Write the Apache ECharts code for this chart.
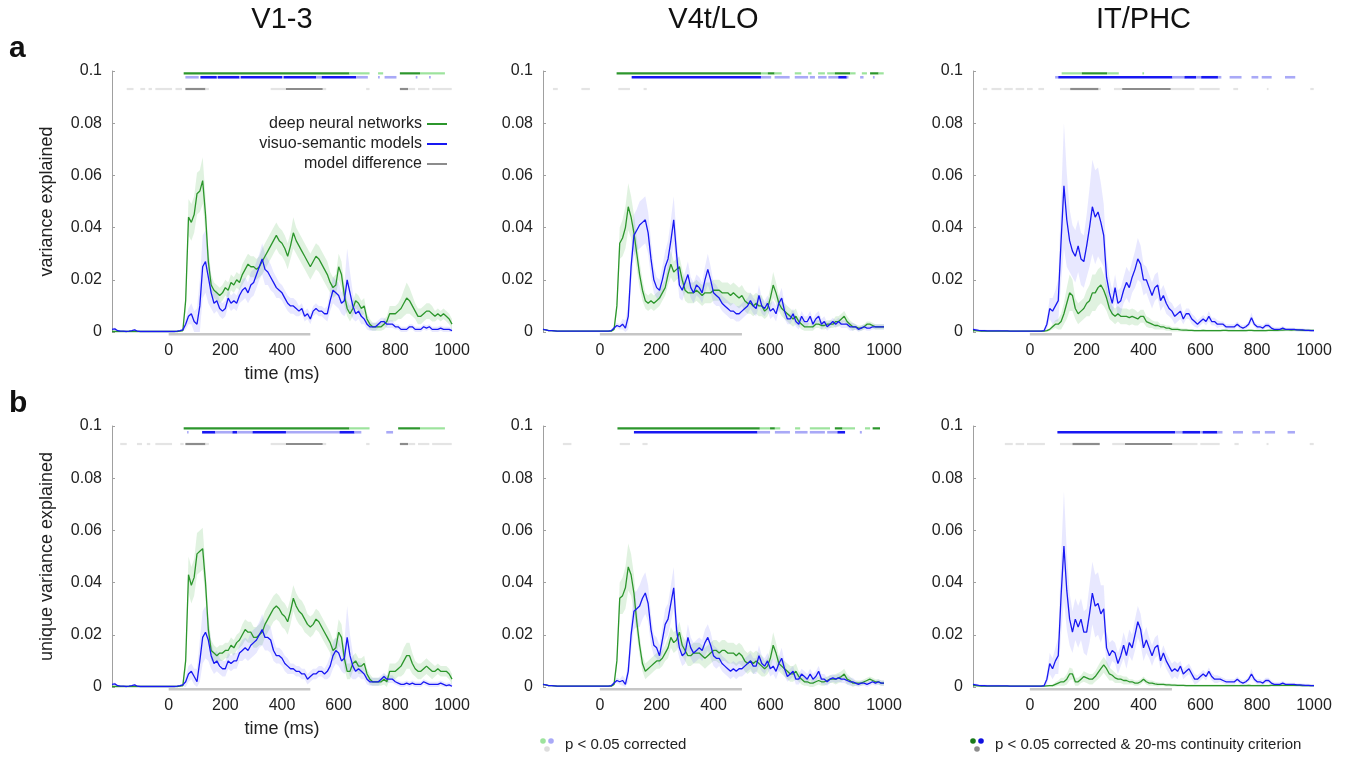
<!DOCTYPE html>
<html>
<head>
<meta charset="utf-8">
<script src="https://cdn.jsdelivr.net/npm/echarts@6/dist/echarts.min.js"></script>
<style>
html, body { margin: 0; padding: 0; background: #fff; }
#chart { width: 1345px; height: 757px; }
</style>
</head>
<body>
<div id="chart"></div>
<script>
// time grid (ms), 10 ms steps
var times = [];
for (var t = -200; t <= 1000; t += 10) times.push(t);

// all curve values in units of 0.001 (variance explained)
// V1-3, variance explained
var dnnA1 = [
 0.2,0.2,0.2,0.2,0.2,0.2,0.2,0.2,0.2,0.2,
 0.2,0.2,0.2,0.2,0.2,0.2,0.2,0.2,0.2,0.2,
 0.2,0.2,0.2,0.2,0.3,0.5,12,44,42,45,
 53,54,58,45,27,18,16,15,14,15,
 17,16,19,18,20,19,22,24,26,25,
 25,24,25,27,29,31,33,35,37,35,
 34,32,29,33,38,35,33,31,29,27,
 25,27,29,28,26,24,22,19,17,18,
 25,22,14,9,7,9,12,11,9,10,
 5,3,2,2,2,2,3,4,7,7,
 7,8,9,11,13,12,10,8,6,6,
 7,8,8,7,6,7,6,7,6,5,
 3];
var dnnA1e = [
 0.3,0.3,0.3,0.3,0.3,0.3,0.3,0.3,0.3,0.3,
 0.3,0.3,0.3,0.3,0.3,0.3,0.3,0.3,0.3,0.3,
 0.3,0.3,0.3,0.3,0.3,0.5,4,7,7,7,
 8,8,9,7,5,4,3,3,3,3,
 3,3,3,3,3,3,4,4,4,4,
 4,4,4,5,5,5,5,5,5,5,
 5,5,5,5,6,5,5,5,5,5,
 5,5,5,5,5,5,5,4,4,4,
 5,5,4,3,3,3,3,3,3,3,
 2,2,1.5,1.5,1.5,1.5,2,2,3,3,
 3,3,4,5,6,5,4,3,3,3,
 3,3,3,3,2,2,2,2,2,2,
 2];
var vsA1 = [
 1,1.2,0.5,0.3,0.3,0.2,0.3,0.5,0.8,0.3,
 0.2,0.2,0.2,0.2,0.2,0.2,0.2,0.2,0.2,0.2,
 0.2,0.2,0.2,0.3,0.5,0.8,3,6,7,4,
 3,10,25,27,21,15,11,12,9,8,
 9,13,11,12,11,14,16,17,15,18,
 19,22,25,28,24,23,21,19,17,16,
 15,13,11,10,10,9,8,9,6,7,
 5,8,9,8,8,7,7,12,16,15,
 14,11,12,20,15,10,7,8,6,5,
 3,2,2,2,3,4,4,3,3,3,
 2,2,1,1,1,2,2,1,1,1,
 2,1.5,2,1,1,1,1.5,1,1,1,
 0.5];
var vsA1e = [
 0.5,0.5,0.4,0.3,0.3,0.3,0.3,0.3,0.4,0.3,
 0.3,0.3,0.3,0.3,0.3,0.3,0.3,0.3,0.3,0.3,
 0.3,0.3,0.3,0.3,0.3,0.5,2,3,4,4,
 6,10,12,12,10,6,4,4,3,3,
 3,3,3,3,3,3,4,4,4,5,
 5,5,5,6,6,5,5,4,4,3,
 3,3,3,3,3,3,2,2,2,2,
 2,2,2,2,2,2,3,4,5,5,
 5,4,6,12,8,5,3,3,3,2,
 2,1.5,1.5,1.5,1.5,1.5,1.5,1.5,1.5,1.5,
 1,1,1,1,1,1,1,1,1,1,
 1,1,1,1,1,1,1,1,1,1,
 1];

// V4t/LO, variance explained
var dnnA2 = [
 1,0.8,0.5,0.5,0.4,0.3,0.3,0.3,0.3,0.3,
 0.3,0.3,0.3,0.3,0.3,0.3,0.3,0.3,0.3,0.3,
 0.3,0.3,0.3,0.3,0.3,1,10,34,36,40,
 48,44,38,30,22,16,12,11,12,11,
 12,13,15,17,22,26,23,24,25,20,
 16,15,15,15,16,15,14,15,15,15,
 16,16,16,15,15,15,14,15,14,13,
 14,12,11,11,10,11,10,10,8,9,
 13,18,15,11,9,8,7,6,5,6,
 4,3,2,2,2,2,3,3,2.5,2.5,
 3,3,3,4,4,5,6,4,3,2,
 2,1.5,1.5,2,3,3,2.5,2,2,2,
 2];
var dnnA2e = [
 0.3,0.3,0.3,0.3,0.3,0.3,0.3,0.3,0.3,0.3,
 0.3,0.3,0.3,0.3,0.3,0.3,0.3,0.3,0.3,0.3,
 0.3,0.3,0.3,0.3,0.3,0.5,3,6,7,8,
 9,8,7,6,5,4,3,3,3,3,
 3,3,3,3,4,5,4,4,4,4,
 4,4,4,4,4,4,4,4,4,4,
 4,4,4,4,4,4,4,4,4,4,
 4,4,4,4,4,4,4,4,3,3,
 4,5,4,3,3,3,3,3,3,3,
 2,2,1.5,1.5,1.5,1.5,1.5,1.5,1.5,1.5,
 1.5,1.5,1.5,2,2,2,2,2,1.5,1.5,
 1,1,1,1,1,1,1,1,1,1,
 1];
var vsA2 = [
 1,0.8,0.5,0.5,0.4,0.3,0.3,0.3,0.3,0.3,
 0.3,0.3,0.3,0.3,0.3,0.3,0.3,0.3,0.3,0.3,
 0.3,0.3,0.3,0.3,0.5,1.5,2.5,2,3,1.5,
 6,25,37,39,41,42,43,38,28,20,
 17,16,20,25,28,35,43,30,18,16,
 19,22,17,15,18,17,15,20,24,20,
 15,14,13,11,10,9,8,8,7,7,
 8,9,10,12,10,9,14,10,9,11,
 8,9,7,11,13,8,5,5,7,4,
 3,6,4,4,6,3,5,6,3,4,
 2,3,4,3,4,3,3,3,2,2,
 2,1,1.5,2,1.5,1.5,2,2,2,2,
 2];
var vsA2e = [
 0.3,0.3,0.3,0.3,0.3,0.3,0.3,0.3,0.3,0.3,
 0.3,0.3,0.3,0.3,0.3,0.3,0.3,0.3,0.3,0.3,
 0.3,0.3,0.3,0.3,0.3,0.5,1,1,2,3,
 5,7,8,8,9,9,9,8,7,5,
 4,4,5,6,7,8,9,7,5,4,
 4,5,4,4,4,4,4,5,6,5,
 4,4,3,3,3,3,3,3,3,3,
 3,3,3,3,3,3,4,3,3,3,
 3,3,3,3,4,3,2,2,2,2,
 2,2,2,2,2,2,2,2,2,2,
 1.5,1.5,1.5,1.5,1.5,1.5,1.5,1.5,1.5,1.5,
 1,1,1,1,1,1,1,1,1,1,
 1];

// IT/PHC, variance explained
var dnnA3 = [
 0.5,0.5,0.4,0.3,0.3,0.3,0.3,0.3,0.3,0.3,
 0.3,0.3,0.3,0.3,0.3,0.3,0.3,0.3,0.3,0.3,
 0.3,0.3,0.3,0.3,0.3,0.3,0.5,1,2,3,
 3,4,7,11,15,14,9,7,8,9,
 11,12,15,15,17,18,16,13,9,7,
 6,7,6,6,6,5.5,6,5.5,5,6,
 6,4,3.5,3,2.5,2.5,2,2,1.5,1.5,
 1,1,1,0.8,0.7,0.7,0.6,0.6,0.5,0.5,
 0.5,0.6,0.5,0.5,0.5,0.5,0.5,0.5,0.6,0.6,
 0.5,0.5,0.5,0.5,0.5,0.5,0.5,0.6,0.6,0.5,
 0.5,0.5,0.5,0.5,0.6,0.6,0.6,0.6,0.7,0.7,
 0.8,0.8,0.7,0.8,0.8,0.7,0.6,0.6,0.6,0.6,
 0.6];
var dnnA3e = [
 0.3,0.3,0.3,0.3,0.3,0.3,0.3,0.3,0.3,0.3,
 0.3,0.3,0.3,0.3,0.3,0.3,0.3,0.3,0.3,0.3,
 0.3,0.3,0.3,0.3,0.3,0.3,0.4,0.5,1,1.5,
 2,3,4,6,7,6,4,4,4,4,
 5,6,7,7,7,7,6,5,4,3,
 3,3,3,3,3,3,3,3,2.5,2.5,
 2.5,2,2,1.5,1.5,1.5,1,1,1,1,
 0.8,0.8,0.8,0.6,0.6,0.6,0.5,0.5,0.5,0.5,
 0.5,0.5,0.5,0.5,0.5,0.5,0.5,0.5,0.5,0.5,
 0.5,0.5,0.5,0.5,0.5,0.5,0.5,0.5,0.5,0.5,
 0.5,0.5,0.5,0.5,0.5,0.5,0.5,0.5,0.5,0.5,
 0.5,0.5,0.5,0.5,0.5,0.5,0.5,0.5,0.5,0.5,
 0.5];
var vsA3 = [
 1,0.8,0.6,0.5,0.5,0.4,0.4,0.4,0.4,0.4,
 0.4,0.4,0.4,0.3,0.3,0.3,0.3,0.3,0.3,0.3,
 0.3,0.3,0.3,0.3,0.3,0.5,3,9,8,10,
 12,35,56,43,35,31,29,33,28,27,
 33,40,48,44,46,42,37,21,15,11,
 17,11,12,16,19,17,21,24,28,26,
 20,20,17,14,17,18,12,14,11,9,
 8,6,7,8,5,7,7,5,4,3,
 4,5,4,6,4,4,3,3,3,2,
 2,2,2,3,2,1.5,2,3,5.5,3,
 2,2,1.5,2.5,2.5,1.5,1,1,1,1.5,
 1,1,1,1,0.8,0.8,0.8,0.6,0.6,0.5,
 0.5];
var vsA3e = [
 0.5,0.5,0.5,0.5,0.5,0.5,0.5,0.5,0.5,0.5,
 0.4,0.4,0.4,0.4,0.4,0.4,0.4,0.4,0.4,0.4,
 0.3,0.3,0.3,0.3,0.3,0.5,2,4,5,6,
 8,16,24,18,12,10,10,10,10,10,
 12,15,18,18,17,15,12,8,6,5,
 5,5,5,5,6,6,6,7,8,7,
 6,5,5,5,5,5,4,4,4,3,
 3,3,3,3,2,2,2,2,2,1.5,
 1.5,1.5,1.5,2,1.5,1.5,1.5,1,1,1,
 1,1,1,1,1,1,1,1,2,1,
 1,1,1,1,1,1,0.8,0.8,0.8,0.8,
 0.6,0.6,0.6,0.6,0.6,0.6,0.6,0.6,0.6,0.6,
 0.6];

// V1-3, unique variance explained
var dnnB1 = [
 0.2,0.2,0.2,0.2,0.2,0.2,0.2,0.2,0.2,0.2,
 0.2,0.2,0.2,0.2,0.2,0.2,0.2,0.2,0.2,0.2,
 0.2,0.2,0.2,0.2,0.3,0.5,10,43,39,42,
 51,52,53,40,22,14,13,12,13,13,
 14,14,16,15,17,18,20,22,21,21,
 19,19,20,21,24,26,28,30,31,30,
 28,27,25,29,34,31,29,28,26,24,
 23,24,26,25,23,21,19,17,14,15,
 21,19,11,6,6,9,10,8,8,9,
 5,3,2,2,2,2,3,2,6,6,
 6,7,8,10,12,12,9,7,6,6,
 7,8,7,6,6,7,6,6,6,5,
 3];
var dnnB1e = [
 0.3,0.3,0.3,0.3,0.3,0.3,0.3,0.3,0.3,0.3,
 0.3,0.3,0.3,0.3,0.3,0.3,0.3,0.3,0.3,0.3,
 0.3,0.3,0.3,0.3,0.3,0.5,4,7,7,7,
 8,8,8,6,5,4,3,3,3,3,
 3,3,3,3,3,3,4,4,4,4,
 4,4,4,5,5,5,5,5,5,5,
 5,5,5,5,5,5,5,5,5,4,
 4,4,4,4,4,4,4,4,4,4,
 5,5,4,3,3,3,3,3,3,3,
 2,2,1.5,1.5,1.5,1.5,2,2,3,3,
 3,3,4,5,5,5,4,3,3,3,
 3,3,3,3,2,2,2,2,2,2,
 2];
var vsB1 = [
 1,1.2,0.5,0.3,0.3,0.2,0.3,0.5,0.8,0.3,
 0.2,0.2,0.2,0.2,0.2,0.2,0.2,0.2,0.2,0.2,
 0.2,0.2,0.2,0.3,0.5,0.8,2,5,6,4,
 2,10,19,21,18,12,9,10,8,7,
 7,10,9,10,10,13,14,15,14,16,
 17,18,20,22,19,19,18,14,12,12,
 11,9,8,7,7,6,6,5,5,3,
 4,5,5,6,6,5,6,8,12,14,
 13,10,11,19,12,8,6,7,6,5,
 3,2,2,2,2,3,4,3,3,3,
 2,1.5,1,1,1.5,1,1.5,1,1,1,
 2,1.5,1,1,1,1,1.5,1,0.5,0.8,
 0.3];
var vsB1e = [
 0.5,0.5,0.4,0.3,0.3,0.3,0.3,0.3,0.4,0.3,
 0.3,0.3,0.3,0.3,0.3,0.3,0.3,0.3,0.3,0.3,
 0.3,0.3,0.3,0.3,0.3,0.5,2,3,3,3,
 5,8,10,10,8,5,4,4,3,3,
 3,3,3,3,3,3,4,4,4,5,
 5,5,5,6,5,5,5,4,3,3,
 3,3,3,2,2,2,2,2,2,2,
 2,2,2,2,2,2,3,4,5,5,
 5,4,6,12,8,5,3,3,3,2,
 2,1.5,1.5,1.5,1.5,1.5,1.5,1.5,1.5,1.5,
 1,1,1,1,1,1,1,1,1,1,
 1,1,1,1,1,1,1,1,1,1,
 1];

// V4t/LO, unique variance explained
var dnnB2 = [
 1,0.8,0.5,0.5,0.4,0.3,0.3,0.3,0.3,0.3,
 0.3,0.3,0.3,0.3,0.3,0.3,0.3,0.3,0.3,0.3,
 0.3,0.3,0.3,0.3,0.3,1,10,34,35,38,
 46,43,36,25,16,9,6,7,8,9,
 10,10,11,13,15,19,17,18,21,16,
 14,12,12,13,13,13,12,11,12,13,
 14,14,13,14,14,13,13,13,12,13,
 12,10,9,10,9,10,9,8,7,8,
 11,16,13,9,8,7,6,5,5,6,
 4,3,2,2,1.5,1.5,2,2.5,2,2,
 2.5,3,3,3,3.5,4,5,3,2.5,1.5,
 1.5,1.5,1.5,2,2.5,3,2.5,2,2,1.5,
 1.5];
var dnnB2e = [
 0.3,0.3,0.3,0.3,0.3,0.3,0.3,0.3,0.3,0.3,
 0.3,0.3,0.3,0.3,0.3,0.3,0.3,0.3,0.3,0.3,
 0.3,0.3,0.3,0.3,0.3,0.5,3,6,7,8,
 9,8,7,5,4,3,3,3,3,3,
 3,3,3,3,4,4,4,4,4,4,
 4,4,4,4,4,4,4,4,4,4,
 4,4,4,4,4,4,4,4,4,4,
 4,4,4,4,4,4,4,4,3,3,
 4,5,4,3,3,3,3,3,3,3,
 2,2,1.5,1.5,1.5,1.5,1.5,1.5,1.5,1.5,
 1.5,1.5,1.5,2,2,2,2,2,1.5,1.5,
 1,1,1,1,1,1,1,1,1,1,
 1];
var vsB2 = [
 1,0.8,0.5,0.5,0.4,0.3,0.3,0.3,0.3,0.3,
 0.3,0.3,0.3,0.3,0.3,0.3,0.3,0.3,0.3,0.3,
 0.3,0.3,0.3,0.3,0.5,1.5,2.5,2,2.5,1,
 6,20,29,30,31,34,36,32,22,16,
 15,12,18,24,26,32,38,22,15,12,
 13,19,15,13,14,15,14,17,19,16,
 12,11,11,9,8,7,6,7,6,7,
 7,8,9,10,8,8,12,9,8,10,
 7,8,6,9,11,7,4,5,6,3,
 3,5,4,3,5,3,4,6,3,3,
 2,3,3.5,3,3.5,3,3,2.5,2,2,
 1.5,1,1.5,1.5,1,1.5,2,1.5,2,1.5,
 1.5];
var vsB2e = [
 0.3,0.3,0.3,0.3,0.3,0.3,0.3,0.3,0.3,0.3,
 0.3,0.3,0.3,0.3,0.3,0.3,0.3,0.3,0.3,0.3,
 0.3,0.3,0.3,0.3,0.3,0.5,1,1,2,2,
 4,6,7,7,8,8,8,7,6,4,
 4,4,5,6,6,7,8,6,4,4,
 4,5,4,4,4,4,4,5,5,5,
 4,4,3,3,3,3,3,3,3,3,
 3,3,3,3,3,3,4,3,3,3,
 3,3,3,3,4,3,2,2,2,2,
 2,2,2,2,2,2,2,2,2,2,
 1.5,1.5,1.5,1.5,1.5,1.5,1.5,1.5,1.5,1.5,
 1,1,1,1,1,1,1,1,1,1,
 1];

// IT/PHC, unique variance explained
var dnnB3 = [
 0.5,0.5,0.4,0.3,0.3,0.3,0.3,0.3,0.3,0.3,
 0.3,0.3,0.3,0.3,0.3,0.3,0.3,0.3,0.3,0.3,
 0.3,0.3,0.3,0.3,0.3,0.3,0.4,0.5,0.5,1,
 1.5,2,2,3,5,5,2,2,3,4,
 3.5,3,3,4,5.5,7,8.5,7,5,4.5,
 3.5,3,3,2.5,2.5,2,2,1.5,1.5,2,
 3,2,1.5,1.5,1.2,1,1,1,0.8,0.8,
 0.7,0.7,0.6,0.6,0.6,0.5,0.5,0.5,0.5,0.5,
 0.5,0.5,0.5,0.5,0.5,0.5,0.5,0.5,0.5,0.5,
 0.5,0.5,0.5,0.5,0.5,0.5,0.5,0.6,0.5,0.5,
 0.5,0.5,0.5,0.5,0.5,0.6,0.6,0.6,0.6,0.6,
 0.6,0.6,0.6,0.6,0.6,0.6,0.5,0.5,0.5,0.5,
 0.5];
var dnnB3e = [
 0.3,0.3,0.3,0.3,0.3,0.3,0.3,0.3,0.3,0.3,
 0.3,0.3,0.3,0.3,0.3,0.3,0.3,0.3,0.3,0.3,
 0.3,0.3,0.3,0.3,0.3,0.3,0.3,0.4,0.5,0.8,
 1,1.5,1.5,2,2.5,2,1.5,1.5,1.5,2,
 2,2,2,2,2.5,3,3,3,2.5,2,
 2,1.5,1.5,1.5,1.5,1,1,1,1,1,
 1,1,1,1,0.8,0.8,0.6,0.6,0.6,0.6,
 0.5,0.5,0.5,0.5,0.5,0.5,0.5,0.5,0.5,0.5,
 0.5,0.5,0.5,0.5,0.5,0.5,0.5,0.5,0.5,0.5,
 0.5,0.5,0.5,0.5,0.5,0.5,0.5,0.5,0.5,0.5,
 0.5,0.5,0.5,0.5,0.5,0.5,0.5,0.5,0.5,0.5,
 0.5,0.5,0.5,0.5,0.5,0.5,0.5,0.5,0.5,0.5,
 0.5];
var vsB3 = [
 1,0.8,0.6,0.5,0.5,0.4,0.4,0.4,0.4,0.4,
 0.4,0.4,0.4,0.3,0.3,0.3,0.3,0.3,0.3,0.3,
 0.3,0.3,0.3,0.3,0.3,0.5,3,9,7,10,
 12,35,54,37,26,21,26,23,26,21,
 21,28,36,31,32,28,30,15,12,14,
 13,9,12,16,12,17,15,20,25,22,
 15,18,15,12,15,16,10,13,10,8,
 6,7,6,8,5,6,7,5,3,3,
 4,5,4,6,4,3,3,3,2.5,2,
 2,2,2,3,2,1.5,2,3,5,3,
 2,2,1.5,2.5,2.5,1.5,1,1,1,1.5,
 1,1,1,1,0.8,0.8,0.7,0.6,0.6,0.5,
 0.5];
var vsB3e = [
 0.5,0.5,0.5,0.5,0.5,0.5,0.5,0.5,0.5,0.5,
 0.4,0.4,0.4,0.4,0.4,0.4,0.4,0.4,0.4,0.4,
 0.3,0.3,0.3,0.3,0.3,0.5,2,4,4,5,
 7,15,21,15,10,8,8,8,8,8,
 9,11,12,12,12,11,9,6,5,4,
 4,4,4,5,5,5,5,6,6,6,
 5,5,4,4,4,4,3,3,3,3,
 3,3,3,2,2,2,2,2,2,1.5,
 1.5,1.5,1.5,1.5,1.5,1.5,1.5,1,1,1,
 1,1,1,1,1,1,1,1,2,1,
 1,1,1,1,1,1,0.8,0.8,0.8,0.8,
 0.6,0.6,0.6,0.6,0.6,0.6,0.6,0.6,0.6,0.6,
 0.6];

// significance marks: [start ms, end ms, 1 = 20-ms continuity, 0 = corrected only]
var sigDnnA1 = [[53,638,1],[638,709,0],[739,757,0],[816,887,1],[887,975,0]];
var sigVsA1 = [[59,106,0],[112,170,1],[170,174,0],[174,250,1],[250,255,0],[255,400,1],[400,406,0],[406,520,1],[520,540,0],[540,662,1],[662,703,0],[739,745,0],[762,804,0],[872,878,0],[919,925,0]];
var sigDiffA1 = [[-148,-124,0],[-100,-83,0],[-71,-59,0],[-47,12,0],[24,47,0],[59,130,1],[130,142,0],[360,414,0],[414,544,1],[544,556,0],[697,709,0],[816,845,1],[845,870,0],[880,920,0],[930,999,0]];

var sigDnnA2 = [[59,567,1],[567,591,0],[591,615,1],[615,640,0],[686,709,0],[733,745,0],[768,792,0],[800,827,0],[827,881,1],[881,900,0],[922,940,0],[951,981,1],[981,999,0]];
var sigVsA2 = [[112,567,1],[567,603,0],[615,668,0],[686,733,0],[739,757,0],[768,798,0],[804,839,0],[839,869,1],[869,875,0],[916,928,0],[961,967,0]];
var sigDiffA2 = [[-165,-148,0],[-65,-35,0],[65,106,0],[154,165,0]];

var sigDnnA3 = [[112,183,0],[183,272,1],[272,313,0],[396,402,0]];
var sigVsA3 = [[89,100,0],[100,502,1],[502,544,0],[544,585,1],[585,603,0],[603,662,1],[662,674,0],[703,745,0],[780,804,0],[816,851,0],[898,934,0]];
var sigDiffA3 = [[-165,-150,0],[-135,-100,0],[-90,-60,0],[-50,-20,0],[-10,10,0],[30,50,0],[106,142,0],[142,242,1],[242,250,0],[296,325,0],[325,496,1],[496,579,0],[597,668,0],[716,733,0],[834,840,0],[987,999,0]];

var sigDnnB1 = [[53,638,1],[638,709,0],[810,887,1],[887,975,0]];
var sigVsB1 = [[65,70,0],[118,165,1],[165,225,0],[225,242,1],[242,296,0],[296,414,1],[414,603,0],[603,656,1],[656,680,0],[768,792,0]];
var sigDiffB1 = [[-171,-148,0],[-112,-94,0],[-77,-65,0],[-47,12,0],[41,53,0],[59,130,1],[130,142,0],[360,414,0],[414,544,1],[544,556,0],[697,709,0],[816,845,1],[845,870,0],[880,920,0],[930,999,0]];

var sigDnnB2 = [[62,563,1],[563,599,0],[599,616,1],[616,635,0],[687,705,0],[739,810,0],[827,854,1],[854,898,0],[933,951,0],[960,986,1]];
var sigVsB2 = [[120,555,1],[555,599,0],[616,669,0],[687,731,0],[739,792,0],[800,836,0],[836,863,1],[915,922,0]];
var sigDiffB2 = [[-130,-100,0],[70,106,0],[150,168,0]];

var sigDnnB3 = [];
var sigVsB3 = [[97,511,1],[511,537,0],[537,599,1],[599,608,0],[608,660,1],[660,678,0],[715,750,0],[783,810,0],[827,863,0],[907,933,0]];
var sigDiffB3 = [[-88,-60,0],[-50,-20,0],[-10,53,0],[106,150,0],[150,246,1],[290,335,0],[335,502,1],[502,590,0],[600,668,0],[720,735,0],[833,840,0],[985,999,0]];

var stimulus = [0, 500];

var areaTitles = ['V1-3', 'V4t/LO', 'IT/PHC'];
var rowLetters = ['a', 'b'];
var yNames = ['variance explained', 'unique variance explained'];

var panels = [
  {dnn: dnnA1, dnnE: dnnA1e, vs: vsA1, vsE: vsA1e, sd: sigDnnA1, sv: sigVsA1, sx: sigDiffA1},
  {dnn: dnnA2, dnnE: dnnA2e, vs: vsA2, vsE: vsA2e, sd: sigDnnA2, sv: sigVsA2, sx: sigDiffA2},
  {dnn: dnnA3, dnnE: dnnA3e, vs: vsA3, vsE: vsA3e, sd: sigDnnA3, sv: sigVsA3, sx: sigDiffA3},
  {dnn: dnnB1, dnnE: dnnB1e, vs: vsB1, vsE: vsB1e, sd: sigDnnB1, sv: sigVsB1, sx: sigDiffB1},
  {dnn: dnnB2, dnnE: dnnB2e, vs: vsB2, vsE: vsB2e, sd: sigDnnB2, sv: sigVsB2, sx: sigDiffB2},
  {dnn: dnnB3, dnnE: dnnB3e, vs: vsB3, vsE: vsB3e, sd: sigDnnB3, sv: sigVsB3, sx: sigDiffB3}
];

panels.forEach(function (p, k) {
  ['dnn', 'dnnE', 'vs', 'vsE'].forEach(function (key) {
    if (p[key].length !== times.length) throw new Error('panel ' + k + ' ' + key + ' has ' + p[key].length);
  });
});

var FONT = '"Liberation Sans", Arial, sans-serif';
var GREEN = '#2c962c', BLUE = '#1818f2', GRAY = '#8c8c8c';
var GREEN_LIGHT = '#9de39d', BLUE_LIGHT = '#a9a9f7', GRAY_LIGHT = '#e4e4e4';
var GREEN_BAND = 'rgba(70,175,70,0.17)', BLUE_BAND = 'rgba(80,80,255,0.13)';

var gridLefts = [112, 543, 973];
var gridWidths = [340, 341, 341];
var gridTops = [71, 426];
var gridH = 261;

var grids = [], xAxes = [], yAxes = [], series = [];

// shaded band drawn as one polygon through the axis scales
function addBand(k, vals, err, fill) {
  var rows = vals.map(function (v, i) {
    return [times[i], Math.max(0, v - err[i]) / 1000, (v + err[i]) / 1000];
  });
  series.push({
    type: 'custom', xAxisIndex: k, yAxisIndex: k, silent: true, z: 1,
    data: rows, encode: {x: 0, y: [1, 2]},
    renderItem: function (params, api) {
      if (params.dataIndex !== 0) return null;
      var upper = [], lower = [];
      for (var i = 0; i < rows.length; i++) {
        upper.push(api.coord([rows[i][0], rows[i][2]]));
        lower.unshift(api.coord([rows[i][0], rows[i][1]]));
      }
      return {type: 'polygon', shape: {points: upper.concat(lower)}, style: {fill: fill}};
    }
  });
}

function addLine(k, vals, name, color) {
  series.push({type: 'line', name: name, xAxisIndex: k, yAxisIndex: k, symbol: 'none',
    data: vals.map(function (v, i) { return [times[i], v / 1000]; }),
    lineStyle: {color: color, width: 1.3}, itemStyle: {color: color}, silent: true, z: 3});
}

function addSig(k, list, level, dark, light, thick, name) {
  series.push({
    type: 'custom', name: name, xAxisIndex: k, yAxisIndex: k, silent: true, z: 4,
    itemStyle: {color: dark},
    data: list.map(function (s) { return [s[0], s[1], level, s[2]]; }),
    encode: {x: [0, 1], y: 2},
    renderItem: function (params, api) {
      var a = api.coord([api.value(0), api.value(2)]);
      var b = api.coord([api.value(1), api.value(2)]);
      return {type: 'rect',
        shape: {x: a[0], y: a[1] - thick / 2, width: Math.max(1.5, b[0] - a[0]), height: thick},
        style: {fill: api.value(3) ? dark : light}};
    }
  });
}

panels.forEach(function (p, k) {
  var row = Math.floor(k / 3), col = k % 3;
  grids.push({left: gridLefts[col], top: gridTops[row], width: gridWidths[col], height: gridH});
  xAxes.push({
    gridIndex: k, type: 'value', min: -200, max: 1000, interval: 200,
    axisLine: {show: false}, axisTick: {show: false}, splitLine: {show: false},
    axisLabel: {fontSize: 16, color: '#222', margin: 11,
      formatter: function (v) { return v < 0 ? '' : String(v); }},
    name: col === 0 ? 'time (ms)' : '', nameLocation: 'middle', nameGap: 33,
    nameTextStyle: {fontSize: 18, color: '#222'}
  });
  yAxes.push({
    gridIndex: k, type: 'value', min: 0, max: 0.1, interval: 0.02,
    axisLine: {show: true, onZero: false, lineStyle: {color: '#a0a0a0', width: 1}},
    axisTick: {show: true, inside: true, length: 3, lineStyle: {color: '#a0a0a0'}},
    splitLine: {show: false},
    axisLabel: {fontSize: 16, color: '#222', margin: 10},
    name: col === 0 ? yNames[row] : '', nameLocation: 'middle', nameGap: 56,
    nameTextStyle: {fontSize: 18, color: '#222'}
  });
  addBand(k, p.dnn, p.dnnE, GREEN_BAND);
  addBand(k, p.vs, p.vsE, BLUE_BAND);
  addLine(k, p.dnn, 'deep neural networks', GREEN);
  addLine(k, p.vs, 'visuo-semantic models', BLUE);
  addSig(k, p.sd, 0.0991, GREEN, GREEN_LIGHT, 2.2, 'sig-dnn');
  addSig(k, p.sv, 0.0976, BLUE, BLUE_LIGHT, 2.6, 'sig-vs');
  addSig(k, p.sx, 0.0931, GRAY, GRAY_LIGHT, 2.2, 'model difference');
  series.push({
    type: 'custom', xAxisIndex: k, yAxisIndex: k, silent: true, z: 0,
    data: [[stimulus[0], stimulus[1], 0]], encode: {x: [0, 1], y: 2},
    renderItem: function (params, api) {
      var a = api.coord([api.value(0), 0]);
      var b = api.coord([api.value(1), 0]);
      return {type: 'rect', shape: {x: a[0], y: a[1] + 1, width: b[0] - a[0], height: 2.5},
        style: {fill: '#c6c6c6'}};
    }
  });
});

var graphics = [];
areaTitles.forEach(function (txt, c) {
  graphics.push({type: 'text', x: gridLefts[c] + gridWidths[c] / 2, y: 20,
    style: {text: txt, font: 'normal 29px ' + FONT, fill: '#111',
      textAlign: 'center', textVerticalAlign: 'middle', align: 'center', verticalAlign: 'middle'}});
});
rowLetters.forEach(function (txt, r) {
  graphics.push({type: 'text', x: 9, y: gridTops[r] - 22,
    style: {text: txt, font: 'bold 30px ' + FONT, fill: '#111',
      textAlign: 'left', textVerticalAlign: 'middle', align: 'left', verticalAlign: 'middle'}});
});

// bottom key
function key(x, dotColors, grayDot, label) {
  graphics.push({type: 'circle', shape: {cx: x, cy: 741, r: 2.8}, style: {fill: dotColors[0]}});
  graphics.push({type: 'circle', shape: {cx: x + 8, cy: 741, r: 2.8}, style: {fill: dotColors[1]}});
  graphics.push({type: 'circle', shape: {cx: x + 4, cy: 749, r: 2.8}, style: {fill: grayDot}});
  graphics.push({type: 'text', x: x + 22, y: 745,
    style: {text: label, font: 'normal 15px ' + FONT, fill: '#222',
      textAlign: 'left', textVerticalAlign: 'middle', align: 'left', verticalAlign: 'middle'}});
}
key(543, [GREEN_LIGHT, BLUE_LIGHT], '#dddddd', 'p < 0.05 corrected');
key(973, ['#1a7a1a', '#1010e0'], GRAY, 'p < 0.05 corrected & 20-ms continuity criterion');

var chart = echarts.init(document.getElementById('chart'));
chart.setOption({
  animation: false,
  backgroundColor: '#fff',
  textStyle: {fontFamily: FONT},
  grid: grids,
  xAxis: xAxes,
  yAxis: yAxes,
  legend: {
    data: [
      {name: 'deep neural networks', itemStyle: {color: GREEN}},
      {name: 'visuo-semantic models', itemStyle: {color: BLUE}},
      {name: 'model difference', itemStyle: {color: GRAY}}
    ],
    orient: 'vertical', right: 1345 - 452, top: 111, align: 'right',
    icon: 'rect', itemWidth: 20, itemHeight: 2, itemGap: 4, selectedMode: false,
    textStyle: {fontSize: 16, color: '#222', lineHeight: 16}
  },
  graphic: graphics,
  series: series
});
</script>
</body>
</html>
